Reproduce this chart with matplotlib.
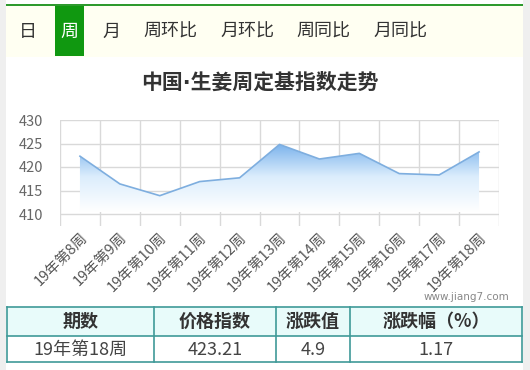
import matplotlib
matplotlib.use("Agg")
import matplotlib.pyplot as plt
import numpy as np
from matplotlib.patches import Rectangle
from matplotlib.colors import LinearSegmentedColormap

plt.rcParams['font.family'] = ['Noto Sans CJK SC', 'DejaVu Sans']

tabs = ["日", "周", "月", "周环比", "月环比", "周同比", "月同比"]
tab_x = [28, 69, 111, 170, 247, 323, 400]
categories = ["19年第8周", "19年第9周", "19年第10周", "19年第11周", "19年第12周",
              "19年第13周", "19年第14周", "19年第15周", "19年第16周", "19年第17周", "19年第18周"]
values = [422.3, 416.4, 413.9, 416.9, 417.7, 424.8, 421.7, 422.9, 418.6, 418.31, 423.21]
yticks = [410, 415, 420, 425, 430]
title = "中国·生姜周定基指数走势"
table_header = ["期数", "价格指数", "涨跌值", "涨跌幅（%）"]
table_row = ["19年第18周", "423.21", "4.9", "1.17"]

W, H = 530, 370
fig = plt.figure(figsize=(W / 100, H / 100), dpi=100)
fig.patch.set_facecolor("white")

def fx(x):
    return x / W

def fy(y):
    return 1 - y / H

bg = fig.add_axes([0, 0, 1, 1])
bg.set_xlim(0, W)
bg.set_ylim(H, 0)
bg.axis("off")
bg.add_patch(Rectangle((0, 0), 6, H, color="#efefef", lw=0))
bg.add_patch(Rectangle((523, 0), 7, H, color="#efefef", lw=0))
bg.add_patch(Rectangle((6, 6), 517, 51, color="#fffff2", lw=0))
bg.add_patch(Rectangle((6, 3.5), 517, 2.5, color="#2e9a2e", lw=0))
bg.add_patch(Rectangle((55, 6), 29, 50, color="#109810", lw=0))
for t, x in zip(tabs, tab_x):
    bg.text(x, 32, t, ha="center", va="center", fontsize=13,
            color="white" if t == "周" else "#333333")

bg.text(260, 83, title, ha="center", va="center", fontsize=15,
        fontweight="bold", color="#333333", family=["DejaVu Sans", "Noto Sans CJK SC"])

bg.text(509, 297, "www.jiang7.com", ha="right", va="center", fontsize=7.5, color="#888888",
        family=["DejaVu Sans"])

cols = [7, 154, 276, 350, 522]
ty0, ty1, ty2 = 307, 336, 362
bg.add_patch(Rectangle((cols[0], ty0), cols[-1] - cols[0], ty1 - ty0, color="#e8fbfa", lw=0))
border = "#3f9a98"
for y in [ty0, ty1, ty2]:
    bg.plot([cols[0], cols[-1]], [y, y], color=border, lw=1.2)
for x in cols:
    bg.plot([x, x], [ty0, ty2], color=border, lw=1.2)
for i in range(4):
    cx = (cols[i] + cols[i + 1]) / 2
    bg.text(cx, (ty0 + ty1) / 2, table_header[i], ha="center", va="center",
            fontsize=13, fontweight="bold", color="#333333")
    bg.text(cx, (ty1 + ty2) / 2 + 1, table_row[i], ha="center", va="center",
            fontsize=13, color="#444444")

left, right, top, bottom = 60, 499, 120, 226
ax = fig.add_axes([fx(left), fy(bottom), (right - left) / W, (bottom - top) / H])
ax.set_facecolor("none")
ppu = (214 - 120) / 20.0
ymin = 410 - (bottom - 214) / ppu
ax.set_xlim(-0.5, len(categories) - 0.5)
ax.set_ylim(ymin, 430)
for s in ax.spines.values():
    s.set_visible(False)

grid_c = "#d9d9d9"
for i in range(len(categories) + 1):
    ax.axvline(i - 0.5, color=grid_c, lw=1, zorder=0)
for yt in yticks:
    ax.axhline(yt, color=grid_c, lw=1, zorder=0)

x = np.arange(len(values))
cmap = LinearSegmentedColormap.from_list("g", [(1, 1, 1), (0.86, 0.93, 0.99), (0.45, 0.68, 0.92)])
grad = np.linspace(0, 1, 256).reshape(-1, 1)
poly = ax.fill_between(x, values, ymin, color="none", lw=0)
img = ax.imshow(grad, aspect="auto", cmap=cmap, origin="lower",
                extent=[-0.5, len(values) - 0.5, 410.5, 425.5], zorder=1)
img.set_clip_path(poly.get_paths()[0], transform=ax.transData)
ax.plot(x, values, color="#7eaedf", lw=1.2, zorder=2)

ax.set_yticks(yticks)
ax.set_yticklabels([str(v) for v in yticks], fontsize=10.5, color="#666666")
ax.set_xticks(x)
ax.set_xticklabels(categories, rotation=45, ha="right", va="top",
                   rotation_mode="anchor", fontsize=10.5, color="#555555")
ax.tick_params(axis="x", length=0, pad=3)
ax.tick_params(axis="y", length=0, pad=12)

fig.savefig("out.png", dpi=100)
